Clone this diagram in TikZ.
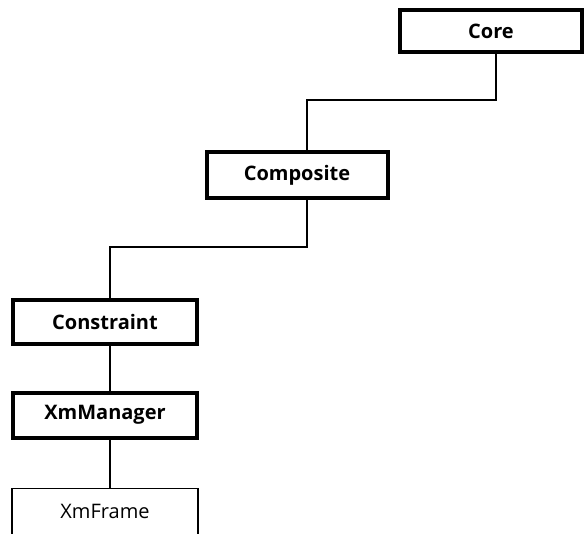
\documentclass[tikz,border=0pt]{standalone}
\usepackage{fontspec}
\setmainfont{Open Sans}
\begin{document}
\begin{tikzpicture}[x=1pt,y=-1pt,
  bold box/.style={draw=black,line width=4pt,fill=white,inner sep=0pt,font=\fontsize{20}{22}\selectfont\bfseries},
  thin box/.style={draw=black,line width=1.2pt,fill=white,inner sep=0pt},
  link/.style={draw=black,line width=1.8pt}]
\useasboundingbox (0,0) rectangle (586,534);
\node[bold box,minimum width=182pt,minimum height=42pt] (core) at (491,31) {Core};
\node[bold box,minimum width=181pt,minimum height=46pt] (comp) at (297,175) {Composite};
\node[bold box,minimum width=184pt,minimum height=44pt] (cons) at (105,322) {Constraint};
\node[bold box,minimum width=184pt,minimum height=45pt] (xmm) at (105,415) {XmManager};
\begin{scope}
\clip (0,0) rectangle (586,534);
\node[thin box,minimum width=186pt,minimum height=60pt,anchor=north,text depth=0pt,text height=0pt] (xmf) at (105,488) {};
\end{scope}
\node[font=\fontsize{20}{22}\selectfont] (xmft) at (105,511) {XmFrame};
\coordinate (c1) at (496,100);
\coordinate (c2) at (307,100);
\coordinate (c3) at (307,247);
\coordinate (c4) at (110,247);
\draw[link] (core.south -| c1) -- (c1) -- (c2) -- (comp.north -| c2);
\draw[link] (comp.south -| c3) -- (c3) -- (c4) -- (cons.north -| c4);
\draw[link] (cons.south -| c4) -- (xmm.north -| c4);
\draw[link] (xmm.south -| c4) -- (xmf.north -| c4);
\end{tikzpicture}
\end{document}
